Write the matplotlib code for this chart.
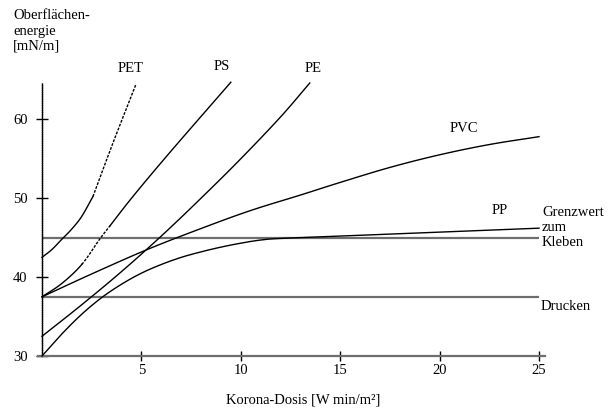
import matplotlib
matplotlib.use("Agg")
import matplotlib.pyplot as plt
import numpy as np

plt.rcParams['font.family'] = ['Liberation Serif', 'DejaVu Serif']
plt.rcParams['font.size'] = 10.5

# Data
pet_solid_x = [0, 0.5, 1.0, 1.5, 2.0, 2.56]
pet_solid_y = [42.5, 43.5, 44.8, 46.1, 47.7, 50.2]
pet_dot_x = [2.56, 3.6, 4.72]
pet_dot_y = [50.2, 57.2, 64.4]

ps_x = [0, 1.0, 2.0, 2.9, 3.42, 4.6, 6.5, 9.5]
ps_y = [37.5, 39.2, 41.6, 44.8, 46.5, 50.3, 56.0, 64.7]

pe_x = [0, 2.0, 4.0, 6.0, 8.0, 10.0, 12.0, 13.47]
pe_y = [32.5, 36.5, 40.7, 45.2, 50.0, 55.0, 60.3, 64.6]

pvc_x = [0, 2.5, 5.3, 7.94, 10.45, 13.0, 15.0, 17.5, 20.0, 22.5, 25.0]
pvc_y = [37.5, 40.4, 43.5, 46.1, 48.4, 50.4, 52.0, 53.9, 55.5, 56.8, 57.8]

pp_x = [0, 1, 2, 3, 4, 5, 6, 7, 8, 9, 10, 11, 12, 15, 20, 25]
pp_y = [30.0, 32.8, 35.3, 37.4, 39.1, 40.5, 41.6, 42.5, 43.2, 43.8, 44.3, 44.7, 44.9, 45.2, 45.7, 46.2]

grenz_kleben = 45.0
grenz_drucken = 37.5

x_ticks = [5, 10, 15, 20, 25]
y_ticks = [30, 40, 50, 60]


def smooth(xs, ys, n=12):
    """Catmull-Rom rendering of a polyline through the read points."""
    p = np.column_stack([xs, ys]).astype(float)
    if len(p) < 3:
        return p[:, 0], p[:, 1]
    ext = np.vstack([2 * p[0] - p[1], p, 2 * p[-1] - p[-2]])
    out = []
    t = np.linspace(0, 1, n, endpoint=False)[:, None]
    for i in range(1, len(ext) - 2):
        p0, p1, p2, p3 = ext[i - 1], ext[i], ext[i + 1], ext[i + 2]
        seg = 0.5 * ((2 * p1) + (-p0 + p2) * t + (2 * p0 - 5 * p1 + 4 * p2 - p3) * t ** 2
                     + (-p0 + 3 * p1 - 3 * p2 + p3) * t ** 3)
        out.append(seg)
    out.append(p[-1:])
    out = np.vstack(out)
    return out[:, 0], out[:, 1]


W, H = 608, 409
fig = plt.figure(figsize=(W / 100, H / 100), dpi=100)
ax = fig.add_axes([42 / W, (H - 356) / H, (539 - 42) / W, (356 - 83) / H])
ax.set_xlim(0, 25)
ax.set_ylim(30, 64.6)

grey = '#6e6e6e'
ax.axhline(grenz_kleben, xmin=0, xmax=1, color=grey, lw=1.6, zorder=1)
ax.axhline(grenz_drucken, xmin=0, xmax=1, color=grey, lw=1.6, zorder=1)

kw = dict(color='black', lw=1.0, clip_on=False, zorder=3)
dash = (0, (2, 1))
ax.plot(*smooth(pet_solid_x, pet_solid_y), **kw)
ax.plot(*smooth(pet_dot_x, pet_dot_y), ls=dash, **kw)

psx, psy = smooth(ps_x, ps_y)
m1 = psx <= ps_x[2]
m2 = (psx >= ps_x[2]) & (psx <= ps_x[4])
m3 = psx >= ps_x[4]
ax.plot(psx[m1], psy[m1], **kw)
ax.plot(psx[m2], psy[m2], ls=dash, **kw)
ax.plot(psx[m3], psy[m3], **kw)

ax.plot(*smooth(pe_x, pe_y), **kw)
ax.plot(*smooth(pvc_x, pvc_y), **kw)
ax.plot(*smooth(pp_x, pp_y), **kw)

for s in ['top', 'right']:
    ax.spines[s].set_visible(False)
ax.spines['left'].set_linestyle((0, (1, 0.6)))
ax.spines['left'].set_linewidth(1.0)
ax.spines['left'].set_bounds(30, 64.6)
ax.spines['bottom'].set_color(grey)
ax.spines['bottom'].set_linewidth(1.6)
ax.spines['bottom'].set_bounds(-0.2, 25.3)

ax.set_xticks(x_ticks)
ax.set_yticks(y_ticks)
ax.tick_params(axis='y', direction='inout', length=9, width=1.0, pad=6.0, labelsize=10.5)
ax.tick_params(axis='x', direction='inout', length=7.5, width=1.0, pad=2.0, labelsize=10.5)


def ftext(px, py, s, **k):
    fig.text(px / W, 1 - py / H, s, **k)


ftext(13, 9, "Oberflächen-\nenergie\n[mN/m]", va='top', ha='left', linespacing=1.25)
ftext(131, 68, "PET", ha='center', va='center')
ftext(222, 67, "PS", ha='center', va='center')
ftext(313, 68, "PE", ha='center', va='center')
ftext(464, 128, "PVC", ha='center', va='center')
ftext(500, 211, "PP", ha='center', va='center')
ftext(542, 206, "Grenzwert\nzum\nKleben", ha='left', va='top', linespacing=1.22)
ftext(541, 306, "Drucken", ha='left', va='center')
ftext(303, 400, "Korona-Dosis [W min/m²]", ha='center', va='center')

fig.savefig('out.png', dpi=100)
